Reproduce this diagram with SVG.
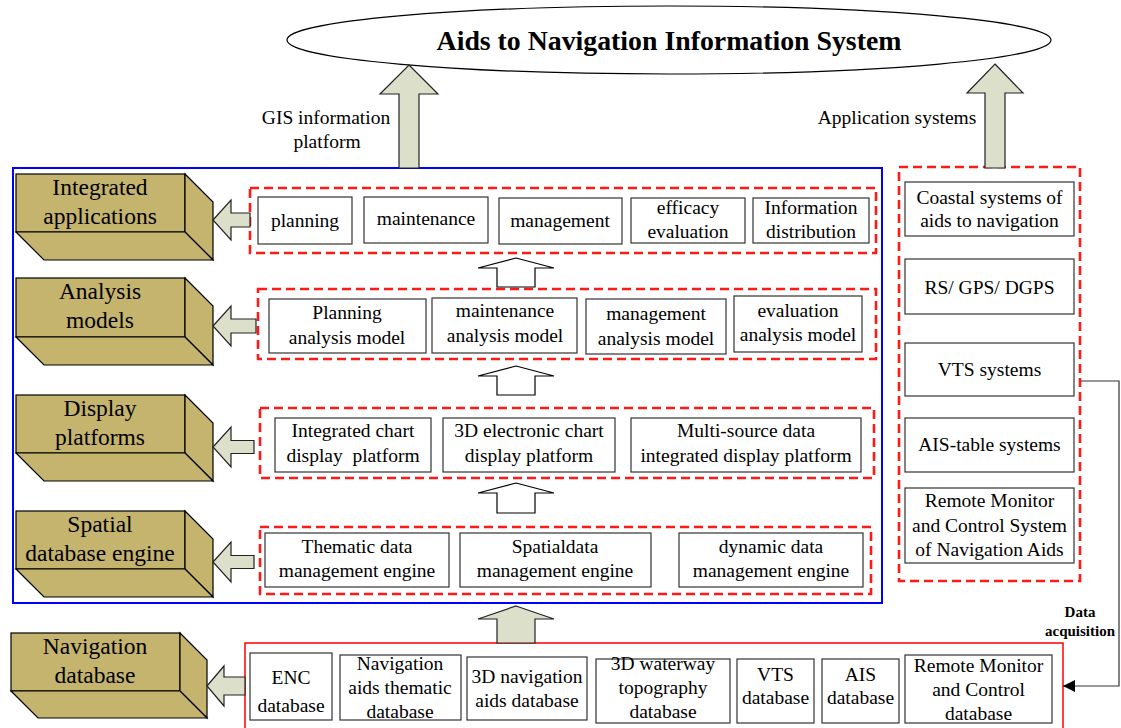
<svg xmlns="http://www.w3.org/2000/svg" width="1121" height="728" viewBox="0 0 1121 728">
<defs>
<style>
text{font-family:"Liberation Serif","Times New Roman",serif;fill:#000;text-anchor:middle;white-space:pre}
.t{font-size:19.5px}
.big{font-size:23.5px}
.box{fill:#fff;stroke:#333;stroke-width:1.2}
.face{fill:#C4B46E;stroke:#000;stroke-width:1.2}
.pale{fill:#DCDFCA;stroke:#222;stroke-width:1.2}
.hollow{fill:#fff;stroke:#000;stroke-width:1.2}
.dash{fill:none;stroke:#FF1A1A;stroke-width:2.6;stroke-dasharray:9,5}
</style>
<marker id="ah" viewBox="0 0 10 10" refX="10" refY="5" markerWidth="19" markerHeight="12" markerUnits="userSpaceOnUse" orient="auto">
<path d="M0,0 L10,5 L0,10 z" fill="#000"/>
</marker>
</defs>
<rect width="1121" height="728" fill="#fff"/>

<g id="title">
<ellipse cx="669" cy="40" rx="382" ry="34" fill="#fff" stroke="#000" stroke-width="1.2"/>
<text x="669" y="50" style="font-size:27.8px;font-weight:bold">Aids to Navigation Information System</text>
</g>

<g id="labels">
<text class="t" x="326" y="124">GIS information</text>
<text class="t" x="327" y="148">platform</text>
<text class="t" x="897" y="124">Application systems</text>
<text x="1080" y="617" style="font-size:15px;font-weight:bold">Data</text>
<text x="1080" y="636" style="font-size:15px;font-weight:bold">acquisition</text>
</g>

<g id="gis-platform-frame">
<rect x="13" y="168" width="869" height="435" fill="none" stroke="#0000FF" stroke-width="2"/>
</g>

<g id="layer-integrated">
<rect class="face" x="16" y="174" width="169" height="58"/>
<polygon class="face" points="185,174 213,202 213,260 185,232"/>
<polygon class="face" points="16,232 185,232 213,260 44,260"/>
<text class="big" x="100" y="195">Integrated</text>
<text class="big" x="100" y="224">applications</text>
</g>
<g id="layer-analysis">
<rect class="face" x="16" y="278" width="169" height="59"/>
<polygon class="face" points="185,278 213,306 213,365 185,337"/>
<polygon class="face" points="16,337 185,337 213,365 44,365"/>
<text class="big" x="100" y="299">Analysis</text>
<text class="big" x="100" y="328">models</text>
</g>
<g id="layer-display">
<rect class="face" x="16" y="395" width="169" height="58"/>
<polygon class="face" points="185,395 213,423 213,481 185,453"/>
<polygon class="face" points="16,453 185,453 213,481 44,481"/>
<text class="big" x="100" y="416">Display</text>
<text class="big" x="100" y="445">platforms</text>
</g>
<g id="layer-spatial">
<rect class="face" x="16" y="511" width="169" height="58"/>
<polygon class="face" points="185,511 213,539 213,597 185,569"/>
<polygon class="face" points="16,569 185,569 213,597 44,597"/>
<text class="big" x="100" y="532">Spatial</text>
<text class="big" x="100" y="561">database engine</text>
</g>
<g id="layer-navdb">
<rect class="face" x="11" y="633" width="169" height="58"/>
<polygon class="face" points="180,633 207,660 207,718 180,691"/>
<polygon class="face" points="11,691 180,691 207,718 38,718"/>
<text class="big" x="95" y="654">Navigation</text>
<text class="big" x="95" y="683">database</text>
</g>

<g id="row-applications">
<rect class="dash" x="250" y="188" width="626" height="65"/>
<rect class="box" x="258" y="197" width="94" height="47"/>
<text class="t" x="305" y="227">planning</text>
<rect class="box" x="364" y="197" width="124" height="46"/>
<text class="t" x="426" y="225">maintenance</text>
<rect class="box" x="499" y="198" width="123" height="46"/>
<text class="t" x="560" y="227">management</text>
<rect class="box" x="631" y="198" width="114" height="45"/>
<text class="t" x="688" y="214">efficacy</text>
<text class="t" x="688" y="238">evaluation</text>
<rect class="box" x="753" y="198" width="116" height="45"/>
<text class="t" x="811" y="214">Information</text>
<text class="t" x="811" y="238">distribution</text>
</g>

<g id="row-analysis">
<rect class="dash" x="258" y="289" width="618" height="70"/>
<rect class="box" x="269" y="299" width="157" height="54"/>
<text class="t" x="347" y="319">Planning</text>
<text class="t" x="347" y="344">analysis model</text>
<rect class="box" x="432" y="298" width="145" height="55"/>
<text class="t" x="505" y="317">maintenance</text>
<text class="t" x="505" y="342">analysis model</text>
<rect class="box" x="586" y="299" width="140" height="55"/>
<text class="t" x="656" y="320">management</text>
<text class="t" x="656" y="345">analysis model</text>
<rect class="box" x="734" y="296" width="128" height="56"/>
<text class="t" x="798" y="317">evaluation</text>
<text class="t" x="798" y="341">analysis model</text>
</g>

<g id="row-display">
<rect class="dash" x="260" y="408" width="614" height="70"/>
<rect class="box" x="275" y="418" width="156" height="54"/>
<text class="t" x="353" y="437">Integrated chart</text>
<text class="t" x="353" y="462">display  platform</text>
<rect class="box" x="443" y="418" width="172" height="54"/>
<text class="t" x="529" y="437">3D electronic chart</text>
<text class="t" x="529" y="462">display platform</text>
<rect class="box" x="631" y="418" width="230" height="54"/>
<text class="t" x="746" y="437">Multi-source data</text>
<text class="t" x="746" y="462">integrated display platform</text>
</g>

<g id="row-engine">
<rect class="dash" x="260" y="527" width="611" height="67"/>
<rect class="box" x="265" y="533" width="184" height="54"/>
<text class="t" x="357" y="553">Thematic data</text>
<text class="t" x="357" y="577">management engine</text>
<rect class="box" x="460" y="533" width="191" height="54"/>
<text class="t" x="555" y="553">Spatialdata</text>
<text class="t" x="555" y="577">management engine</text>
<rect class="box" x="679" y="533" width="184" height="54"/>
<text class="t" x="771" y="553">dynamic data</text>
<text class="t" x="771" y="577">management engine</text>
</g>

<g id="application-systems">
<rect class="dash" x="899" y="167" width="181" height="414"/>
<rect class="box" x="905" y="182" width="169" height="54"/>
<text class="t" x="989.5" y="204">Coastal systems of</text>
<text class="t" x="989.5" y="227">aids to navigation</text>
<rect class="box" x="905" y="259" width="169" height="55"/>
<text class="t" x="989.5" y="294">RS/ GPS/ DGPS</text>
<rect class="box" x="905" y="343" width="169" height="53"/>
<text class="t" x="989.5" y="376">VTS systems</text>
<rect class="box" x="905" y="418" width="169" height="54"/>
<text class="t" x="989.5" y="451">AIS-table systems</text>
<rect class="box" x="905" y="488" width="169" height="75"/>
<text class="t" x="989.5" y="507">Remote Monitor</text>
<text class="t" x="989.5" y="532">and Control System</text>
<text class="t" x="989.5" y="556">of Navigation Aids</text>
</g>

<g id="navigation-database">
<rect x="245" y="643" width="818" height="95" fill="none" stroke="#FF0000" stroke-width="1.5"/>
<rect class="box" x="250" y="653" width="82" height="67"/>
<text class="t" x="291" y="684">ENC</text>
<text class="t" x="291" y="712">database</text>
<rect class="box" x="340" y="655" width="121" height="65"/>
<text class="t" x="400" y="670">Navigation</text>
<text class="t" x="400" y="694">aids thematic</text>
<text class="t" x="400" y="718">database</text>
<rect class="box" x="467" y="657" width="120" height="63"/>
<text class="t" x="527" y="683">3D navigation</text>
<text class="t" x="527" y="707">aids database</text>
<rect class="box" x="596" y="659" width="134" height="64"/>
<text class="t" x="663" y="670">3D waterway</text>
<text class="t" x="663" y="694">topography</text>
<text class="t" x="663" y="718">database</text>
<rect class="box" x="737" y="659" width="77" height="64"/>
<text class="t" x="775.5" y="681">VTS</text>
<text class="t" x="775.5" y="704">database</text>
<rect class="box" x="822" y="659" width="77" height="64"/>
<text class="t" x="860.5" y="681">AIS</text>
<text class="t" x="860.5" y="704">database</text>
<rect class="box" x="905" y="655" width="147" height="68"/>
<text class="t" x="978.5" y="672">Remote Monitor</text>
<text class="t" x="978.5" y="696">and Control</text>
<text class="t" x="978.5" y="720">database</text>
</g>

<g id="connectors">
<path class="pale" d="M409,65 L438,94 L419,94 L419,168 L399,168 L399,94 L380,94 Z"/>
<path class="pale" d="M995,64 L1023,93 L1005,93 L1005,168 L985,168 L985,93 L967,93 Z"/>
<path class="pale" d="M213,220 L231,200 L231,213 L250,213 L250,227 L231,227 L231,240 Z"/>
<path class="pale" d="M213,326 L231,306 L231,319 L256,319 L256,333 L231,333 L231,346 Z"/>
<path class="pale" d="M213,447 L231,427 L231,440.5 L254,440.5 L254,453.5 L231,453.5 L231,467 Z"/>
<path class="pale" d="M213,562 L231,542 L231,555.5 L254,555.5 L254,568.5 L231,568.5 L231,582 Z"/>
<path class="pale" d="M207,686 L224,666 L224,677 L245,677 L245,695 L224,695 L224,706 Z"/>
<path class="hollow" d="M516,258 L554,268 L535,268 L535,287 L497,287 L497,268 L478,268 Z"/>
<path class="hollow" d="M516,366 L554,376 L535,376 L535,395 L497,395 L497,376 L478,376 Z"/>
<path class="hollow" d="M516,483 L554,493 L535,493 L535,513 L497,513 L497,493 L478,493 Z"/>
<path class="pale" d="M516,606 L554,619 L535,619 L535,643 L497,643 L497,619 L478,619 Z"/>
<polyline points="1081,381 1119,381 1119,686 1063,686" fill="none" stroke="#333" stroke-width="1.2" marker-end="url(#ah)"/>
</g>
</svg>
